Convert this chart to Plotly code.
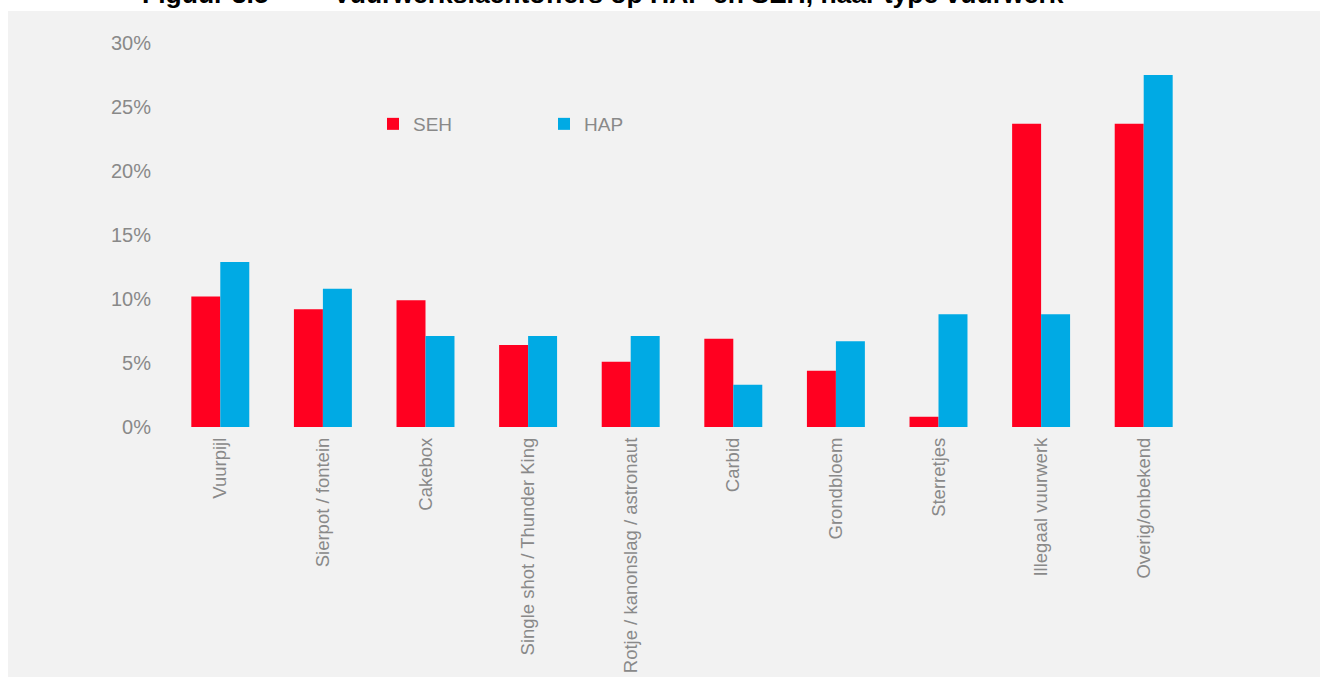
import plotly.graph_objects as go

categories = ["Vuurpijl", "Sierpot / fontein", "Cakebox", "Single shot / Thunder King",
              "Rotje / kanonslag / astronaut", "Carbid", "Grondbloem", "Sterretjes",
              "Illegaal vuurwerk", "Overig/onbekend"]
seh = [10.2, 9.2, 9.9, 6.4, 5.1, 6.9, 4.4, 0.8, 23.7, 23.7]
hap = [12.9, 10.8, 7.1, 7.1, 7.1, 3.3, 6.7, 8.8, 8.8, 27.5]
y_ticks = [0, 5, 10, 15, 20, 25, 30]
y_ticktext = ["0%", "5%", "10%", "15%", "20%", "25%", "30%"]

W, H = 1320, 677
L, R, T, B = 169, 125, 43, 250
pw, ph = W - L - R, H - T - B

def px_x(x):
    return (x - L) / pw

def px_y(y):
    return (H - B - y) / ph

gray = "#F2F2F2"
txt = "#898989"

fig = go.Figure()
fig.add_trace(go.Bar(name="SEH", x=categories, y=seh, marker_color="#FF0020",
                     marker_line_width=0))
fig.add_trace(go.Bar(name="HAP", x=categories, y=hap, marker_color="#00AAE4",
                     marker_line_width=0))

fig.add_shape(type="rect", xref="paper", yref="paper",
              x0=px_x(8), x1=px_x(W + 5), y0=px_y(H + 5), y1=px_y(11),
              fillcolor=gray, line_width=0, layer="below")

fig.add_annotation(text="<b>Figuur 3.5</b>", xref="paper", yref="paper",
                   x=px_x(140), y=px_y(11), xanchor="left", yanchor="bottom",
                   showarrow=False, font=dict(family="Liberation Sans", size=26.5, color="#000000"))
fig.add_annotation(text="<b>Vuurwerkslachtoffers op HAP en SEH, naar type vuurwerk</b>",
                   xref="paper", yref="paper",
                   x=px_x(331), y=px_y(11), xanchor="left", yanchor="bottom",
                   showarrow=False, font=dict(family="Liberation Sans", size=26.5, color="#000000"))

fig.update_layout(
    width=W, height=H,
    margin=dict(l=L, r=R, t=T, b=B, autoexpand=False),
    paper_bgcolor="white", plot_bgcolor=gray,
    barmode="group", bargap=0.435, bargroupgap=0,
    font=dict(family="Liberation Sans", color=txt, size=19),
    showlegend=True,
    legend=dict(orientation="h", x=px_x(373), y=px_y(124), xanchor="left", yanchor="middle",
                bgcolor="rgba(0,0,0,0)", font=dict(size=19, color=txt),
                itemwidth=30, entrywidth=126, entrywidthmode="pixels",
                traceorder="normal"),
    xaxis=dict(showgrid=False, showline=False, zeroline=False, ticks="",
               tickangle=-90, ticklabelstandoff=6, tickfont=dict(size=18.5, color=txt)),
    yaxis=dict(range=[0, 30], tickvals=y_ticks, ticktext=y_ticktext, showgrid=False,
               showline=False, zeroline=False, ticks="", ticklabelstandoff=17,
               tickfont=dict(size=20, color=txt)),
)

fig.write_html("out.html", config={"displayModeBar": False},
               post_script="document.body.style.margin='0';")
